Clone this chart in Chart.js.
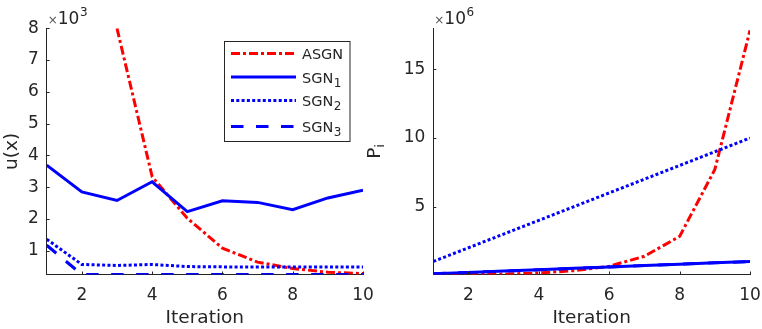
<!DOCTYPE html>
<html>
<head>
<meta charset="utf-8">
<script src="https://cdn.jsdelivr.net/npm/chart.js@4.4.1/dist/chart.umd.min.js"></script>
<style>
  html, body { margin: 0; padding: 0; background: #fff; }
  #wrap { position: relative; width: 762px; height: 329px; overflow: hidden; }
  #c1 { position: absolute; left: 0; top: 0; }
  #c2 { position: absolute; left: 362px; top: 0; }
</style>
</head>
<body>
<div id="wrap">
  <canvas id="c1" width="381" height="329"></canvas>
  <canvas id="c2" width="400" height="329"></canvas>
</div>
<script>
const iterations = [1, 2, 3, 4, 5, 6, 7, 8, 9, 10];
const xTicks = [2, 4, 6, 8, 10];

// left panel: u(x)
const uASGN = [null, null, 8000, 3330, 2020, 1080, 640, 440, 320, 280];
const uSGN1 = [3690, 2850, 2580, 3170, 2230, 2570, 2520, 2290, 2660, 2900];
const uSGN2 = [1360, 565, 535, 565, 500, 490, 490, 490, 490, 490];
const uSGN3 = [1170, 250, 250, 250, 250, 250, 250, 250, 250, 250];
const uTicks = [1000, 2000, 3000, 4000, 5000, 6000, 7000, 8000];

// right panel: P_i
const pASGN = [0.02e6, 0.04e6, 0.08e6, 0.16e6, 0.33e6, 0.65e6, 1.38e6, 2.83e6, 7.7e6, 17.85e6];
const pSGN1 = [0.1e6, 0.2e6, 0.3e6, 0.4e6, 0.5e6, 0.6e6, 0.7e6, 0.8e6, 0.9e6, 1.0e6];
const pSGN2 = [1e6, 2e6, 3e6, 4e6, 5e6, 6e6, 7e6, 8e6, 9e6, 10e6];
const pSGN3 = [0.1e6, 0.2e6, 0.3e6, 0.4e6, 0.5e6, 0.6e6, 0.7e6, 0.8e6, 0.9e6, 1.0e6];
const pTicks = [5e6, 10e6, 15e6];

const DARK = '#262626';
const FONT = 'DejaVu Sans';
const RED = '#ff0000';
const BLUE = '#0000ff';

const styles = {
  ASGN: { color: RED, dash: [9, 3, 3, 3] },
  SGN1: { color: BLUE, dash: [] },
  SGN2: { color: BLUE, dash: [3, 2.3] },
  SGN3: { color: BLUE, dash: [12.5, 12.5] }
};

function pts(vals) {
  return iterations.map((x, i) => ({ x: x, y: vals[i] }));
}

function ds(name, vals, order) {
  return {
    label: name,
    data: pts(vals),
    borderColor: styles[name].color,
    borderDash: styles[name].dash,
    borderWidth: 3,
    pointRadius: 0,
    tension: 0,
    fill: false,
    order: order
  };
}

// small tick marks pointing into the plot, matlab style
const inwardTicks = {
  id: 'inwardTicks',
  afterDatasetsDraw(chart) {
    const { ctx, chartArea: a, scales: { x, y } } = chart;
    ctx.save();
    ctx.strokeStyle = DARK;
    ctx.lineWidth = 1;
    ctx.beginPath();
    x.ticks.forEach(t => {
      const px = Math.round(x.getPixelForValue(t.value)) + 0.5;
      ctx.moveTo(px, a.bottom);
      ctx.lineTo(px, a.bottom - 3);
    });
    y.ticks.forEach(t => {
      const py = Math.round(y.getPixelForValue(t.value)) + 0.5;
      ctx.moveTo(a.left, py);
      ctx.lineTo(a.left + 3, py);
    });
    ctx.stroke();
    ctx.restore();
  }
};

// the "x10^n" note above the y axis
const expLabel = {
  id: 'expLabel',
  afterDraw(chart, args, opts) {
    const { ctx, chartArea: a } = chart;
    ctx.save();
    ctx.textBaseline = 'alphabetic';
    ctx.textAlign = 'left';
    let x = a.left + 1;
    ctx.fillStyle = '#555';
    ctx.font = '12px ' + FONT;
    ctx.fillText('\u00d7', x, 24);
    x += ctx.measureText('\u00d7').width;
    ctx.fillStyle = DARK;
    ctx.font = '17px ' + FONT;
    ctx.fillText('10', x, 24);
    x += ctx.measureText('10').width;
    ctx.font = '12px ' + FONT;
    ctx.fillText(opts.exp, x + 0.5, 15.5);
    ctx.restore();
  }
};

// legend box with subscripts
const legendEntries = [
  { name: 'ASGN', text: 'ASGN', sub: '', y: 53.5 },
  { name: 'SGN1', text: 'SGN', sub: '1', y: 77 },
  { name: 'SGN2', text: 'SGN', sub: '2', y: 100.5 },
  { name: 'SGN3', text: 'SGN', sub: '3', y: 126.5 }
];

const boxLegend = {
  id: 'boxLegend',
  afterDraw(chart, args, opts) {
    if (!opts.show) return;
    const ctx = chart.ctx;
    ctx.save();
    ctx.fillStyle = '#fff';
    ctx.fillRect(224.5, 41.5, 125.5, 100);
    ctx.strokeStyle = DARK;
    ctx.lineWidth = 1;
    ctx.strokeRect(224.5, 41.5, 125.5, 100);
    legendEntries.forEach(e => {
      const s = styles[e.name];
      ctx.strokeStyle = s.color;
      ctx.lineWidth = 3;
      ctx.setLineDash(s.dash);
      ctx.beginPath();
      ctx.moveTo(231, e.y);
      ctx.lineTo(296, e.y);
      ctx.stroke();
      ctx.setLineDash([]);
      ctx.fillStyle = DARK;
      ctx.textAlign = 'left';
      ctx.textBaseline = 'alphabetic';
      ctx.font = '14.5px ' + FONT;
      ctx.fillText(e.text, 302, e.y + 5.5);
      if (e.sub) {
        const w = ctx.measureText(e.text).width;
        ctx.font = '12px ' + FONT;
        ctx.fillText(e.sub, 302 + w + 0.5, e.y + 9.8);
      }
    });
    ctx.restore();
  }
};

// rotated "P_i" label for the right panel
const piLabel = {
  id: 'piLabel',
  afterDraw(chart, args, opts) {
    if (!opts.show) return;
    const { ctx, chartArea: a } = chart;
    ctx.save();
    ctx.translate(17.5, (a.top + a.bottom) / 2);
    ctx.rotate(-Math.PI / 2);
    ctx.fillStyle = DARK;
    ctx.textBaseline = 'alphabetic';
    ctx.font = '18.5px ' + FONT;
    const wP = ctx.measureText('P').width;
    ctx.font = '13px ' + FONT;
    const wi = ctx.measureText('i').width;
    let x = -(wP + wi) / 2;
    ctx.font = '18.5px ' + FONT;
    ctx.fillText('P', x, 0);
    ctx.font = '13px ' + FONT;
    ctx.fillText('i', x + wP, 4);
    ctx.restore();
  }
};

function makeChart(id, cfg) {
  return new Chart(document.getElementById(id), {
    type: 'line',
    data: { datasets: cfg.datasets },
    options: {
      responsive: false,
      animation: false,
      devicePixelRatio: 1,
      layout: { padding: { top: 28.3, right: cfg.padRight, left: 0, bottom: 0 } },
      plugins: {
        legend: { display: false },
        tooltip: { enabled: false },
        expLabel: { exp: cfg.exp },
        boxLegend: { show: cfg.legend },
        piLabel: { show: !cfg.yTitle }
      },
      scales: {
        x: {
          type: 'linear',
          min: 1,
          max: 10,
          // tickLength only shifts the labels down, grid itself is hidden
          grid: { display: false, drawTicks: true, tickLength: 11 },
          border: { display: true, color: DARK, width: 1 },
          afterBuildTicks: s => { s.ticks = xTicks.map(v => ({ value: v })); },
          afterFit: s => { s.height = 54.5; },
          ticks: {
            autoSkip: false,
            maxRotation: 0,
            padding: 0,
            color: DARK,
            font: { family: FONT, size: 17 }
          },
          title: {
            display: true,
            text: 'Iteration',
            color: DARK,
            font: { family: FONT, size: 18.5 },
            padding: { top: 0, bottom: 0 }
          }
        },
        y: {
          type: 'linear',
          min: cfg.yMin,
          max: cfg.yMax,
          grid: { display: false, drawTicks: false },
          border: { display: true, color: DARK, width: 1 },
          afterBuildTicks: s => { s.ticks = cfg.yTicks.map(v => ({ value: v })); },
          afterFit: s => { s.width = cfg.yWidth; },
          ticks: {
            autoSkip: false,
            padding: 8,
            color: DARK,
            font: { family: FONT, size: 17 },
            callback: v => String(v / cfg.scale)
          },
          title: {
            display: !!cfg.yTitle,
            text: cfg.yTitle || '',
            color: DARK,
            font: { family: FONT, size: 18.5 },
            padding: { top: 1, bottom: 0 }
          }
        }
      }
    },
    plugins: [inwardTicks, expLabel, boxLegend, piLabel]
  });
}

makeChart('c1', {
  datasets: [
    ds('ASGN', uASGN, 3),
    ds('SGN1', uSGN1, 2),
    ds('SGN2', uSGN2, 1),
    ds('SGN3', uSGN3, 0)
  ],
  yMin: 250, yMax: 8000, yTicks: uTicks, scale: 1000,
  yWidth: 46.7, padRight: 18, exp: '3', legend: true, yTitle: 'u(x)'
});

makeChart('c2', {
  datasets: [
    ds('ASGN', pASGN, 3),
    ds('SGN1', pSGN1, 2),
    ds('SGN2', pSGN2, 1),
    ds('SGN3', pSGN3, 0)
  ],
  yMin: 0.05e6, yMax: 18e6, yTicks: pTicks, scale: 1e6,
  yWidth: 71.3, padRight: 12, exp: '6', legend: false, yTitle: null
});
</script>
</body>
</html>
